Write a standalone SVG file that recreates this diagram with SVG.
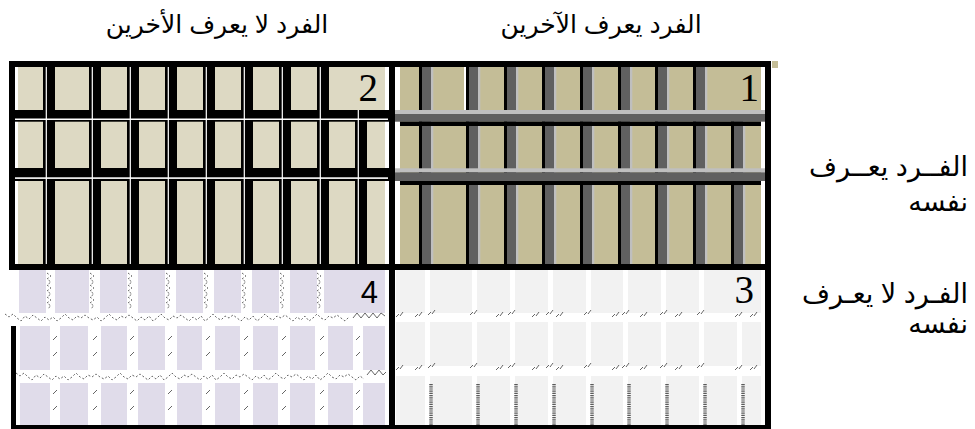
<svg xmlns="http://www.w3.org/2000/svg" width="975" height="429" viewBox="0 0 975 429">
<style>
.lbl{font-family:"Liberation Sans","DejaVu Sans",sans-serif;font-size:25px;fill:#000}
.lbr{font-family:"Liberation Sans","DejaVu Sans",sans-serif;font-size:27px;fill:#000}
.num{font-family:"Liberation Serif",serif;font-size:39px;fill:#000}
.num4{font-family:"Liberation Sans",sans-serif;font-size:31px;fill:#000}
.k{fill:#000}.w{fill:#fff}.dg{fill:#606060}.lg{fill:#BFBFBF}
.dash{fill:none;stroke:#555;stroke-width:0.9;stroke-dasharray:2 2}
.tick{fill:none;stroke:#555;stroke-width:0.9}
.hatch{fill:none;stroke:#5a5a5a;stroke-width:3.5;stroke-dasharray:1.2 1}
</style>
<defs>
<g id="vb2"><rect class="k" x="0" y="0" width="12" height="197"/></g>
<g id="vw2"><rect class="w" x="2.7" y="0" width="1.2" height="197"/></g>
<g id="vb1"><rect class="k" x="0" y="0" width="3" height="197"/><rect class="dg" x="3" y="0" width="9" height="197"/><rect class="lg" x="12" y="0" width="2.3" height="197"/></g>
<rect id="vw3" class="w" x="0" y="0" width="5" height="155"/>
<polyline id="zz" class="dash" points="0,0 4,3 0,6 4,9 0,12 4,15 0,18 4,21 0,24 4,27 0,30 4,33 0,36"/>
<g id="tk"><line class="tick" x1="0" y1="4" x2="4" y2="0"/><line class="tick" x1="0" y1="20" x2="4" y2="16"/></g>
<g id="tk3"><line class="tick" x1="0" y1="5" x2="3" y2="2"/><line class="tick" x1="4" y1="4" x2="7" y2="0"/></g>
</defs>

<g id="quadrant-2">
<rect class="w" x="15" y="67" width="374" height="197"/>
<rect fill="#DDD9C3" x="18" y="67" width="367" height="197"/>
<use href="#vb2" x="43" y="67"/><use href="#vb2" x="89" y="67"/><use href="#vb2" x="127" y="67"/><use href="#vb2" x="165" y="67"/><use href="#vb2" x="203" y="67"/><use href="#vb2" x="241" y="67"/><use href="#vb2" x="279" y="67"/><use href="#vb2" x="317" y="67"/>
<rect class="k" x="355" y="110" width="12" height="154"/>
<rect class="k" x="15" y="110" width="374" height="11.7"/>
<rect class="k" x="15" y="168" width="374" height="13"/>
<use href="#vw2" x="43" y="67"/><use href="#vw2" x="89" y="67"/><use href="#vw2" x="127" y="67"/><use href="#vw2" x="165" y="67"/><use href="#vw2" x="203" y="67"/><use href="#vw2" x="241" y="67"/><use href="#vw2" x="279" y="67"/><use href="#vw2" x="317" y="67"/>
<rect class="w" x="357.7" y="110" width="1.2" height="154"/>
<rect class="w" x="15" y="118.5" width="373" height="1.5"/>
<rect class="w" x="15" y="177.3" width="373" height="1.6"/>
<text class="num" x="378" y="101" text-anchor="end">2</text>
</g>

<g id="quadrant-1">
<rect class="w" x="395" y="67" width="370" height="197"/>
<rect fill="#C4BD97" x="400" y="67" width="361" height="197"/>
<use href="#vb1" x="419" y="67"/><use href="#vb1" x="466" y="67"/><use href="#vb1" x="504" y="67"/><use href="#vb1" x="542" y="67"/><use href="#vb1" x="580" y="67"/><use href="#vb1" x="618" y="67"/><use href="#vb1" x="655" y="67"/><use href="#vb1" x="693" y="67"/>
<rect class="k" x="731" y="110" width="3" height="154"/><rect class="dg" x="734" y="110" width="9" height="154"/><rect class="lg" x="743" y="110" width="2.3" height="154"/>
<rect class="w" x="464" y="67" width="2" height="43"/>
<rect class="lg" x="395" y="110" width="371" height="4"/>
<rect class="dg" x="395" y="114" width="371" height="7.7"/>
<rect class="k" x="400" y="121.7" width="361" height="4.3"/>
<rect class="lg" x="395" y="168.3" width="371" height="4"/>
<rect class="dg" x="395" y="172.3" width="371" height="8.7"/>
<rect class="k" x="400" y="181" width="361" height="4"/>
<rect fill="#C4BD97" x="772" y="61" width="6" height="7"/>
<text class="num" x="759" y="101" text-anchor="end">1</text>
</g>

<g id="quadrant-4">
<rect fill="#E0DCEA" x="19" y="270" width="366" height="155"/>
<rect class="w" x="5" y="313" width="380" height="13"/>
<rect class="w" x="16" y="370" width="369" height="13"/>
<rect class="w" x="16" y="326" width="4" height="99"/>
<rect class="w" x="46" y="270" width="9" height="43"/><rect class="w" x="89" y="270" width="11" height="43"/><rect class="w" x="127" y="270" width="11" height="43"/><rect class="w" x="165" y="270" width="11" height="43"/><rect class="w" x="203" y="270" width="11" height="43"/><rect class="w" x="241" y="270" width="11" height="43"/><rect class="w" x="279" y="270" width="11" height="43"/><rect class="w" x="317" y="270" width="7" height="43"/>
<rect class="w" x="50" y="326" width="10" height="99"/><rect class="w" x="88" y="326" width="13" height="99"/><rect class="w" x="127" y="326" width="11" height="99"/><rect class="w" x="165" y="326" width="12" height="99"/><rect class="w" x="202" y="326" width="13" height="99"/><rect class="w" x="240" y="326" width="13" height="99"/><rect class="w" x="278" y="326" width="12" height="99"/><rect class="w" x="315" y="326" width="13" height="99"/><rect class="w" x="353" y="326" width="10" height="99"/>
<use href="#zz" x="47" y="273"/><use href="#zz" x="90" y="273"/><use href="#zz" x="128" y="273"/><use href="#zz" x="166" y="273"/><use href="#zz" x="204" y="273"/><use href="#zz" x="242" y="273"/><use href="#zz" x="280" y="273"/><use href="#zz" x="317" y="273"/>
<polyline class="dash" points="5,314 9,317 13,314 17,318 21,321 25,316 29,319 33,315 37,318 41,321 45,317 49,320 53,317 57,321 61,318 65,314 69,318 73,320 77,316 81,318 85,315 89,318 93,320 97,317 101,321 105,318 109,314 113,318 117,320 121,316 125,318 129,315 133,318 137,321 141,317 145,320 149,316 153,321 157,318 161,314 165,318 169,320 173,316 177,318 181,315 185,318 189,321 193,317 197,320 201,316 205,321 209,318 213,314 217,318 221,320 225,316 229,318 233,315 237,318 241,321 245,317 249,320 253,316 257,321 261,318 265,314 269,318 273,320 277,316 281,318 285,315 289,318 293,321 297,317 301,320 305,316 309,321 313,318 317,314 321,318 325,320 329,316 333,318 337,315 341,318 345,321 349,317"/>
<polyline class="dash" points="16,373 20,376 24,373 28,377 32,380 36,375 40,378 44,374 48,377 52,380 56,376 60,379 64,376 68,380 72,377 76,373 80,377 84,379 88,375 92,377 96,374 100,377 104,379 108,376 112,380 116,377 120,373 124,377 128,379 132,375 136,377 140,374 144,377 148,380 152,376 156,379 160,375 164,380 168,377 172,373 176,377 180,379 184,375 188,377 192,374 196,377 200,380 204,376 208,379 212,375 216,380 220,377 224,373 228,377 232,379 236,375 240,377 244,374 248,377 252,380 256,376 260,379 264,375 268,380 272,377 276,373 280,377 284,379 288,375 292,377 296,374 300,377 304,380 308,376 312,379 316,375 320,380 324,377 328,373 332,377 336,379 340,375 344,377 348,374 352,377 356,380 360,376 364,379"/>
<polyline class="tick" points="353,318 357,313 361,318 365,313 369,318 373,313 377,318 381,313 385,316"/>
<polyline class="tick" points="367,375 371,370 375,375 379,370 383,375 386,372"/>
<use href="#tk" x="53" y="336"/><use href="#tk" x="93" y="336"/><use href="#tk" x="130" y="336"/><use href="#tk" x="168" y="336"/><use href="#tk" x="206" y="336"/><use href="#tk" x="244" y="336"/><use href="#tk" x="282" y="336"/><use href="#tk" x="320" y="336"/><use href="#tk" x="356" y="336"/>
<use href="#tk" x="53" y="390"/><use href="#tk" x="93" y="390"/><use href="#tk" x="130" y="390"/><use href="#tk" x="168" y="390"/><use href="#tk" x="206" y="390"/><use href="#tk" x="244" y="390"/><use href="#tk" x="282" y="390"/><use href="#tk" x="320" y="390"/><use href="#tk" x="356" y="390"/>
<text class="num4" x="378" y="303" text-anchor="end">4</text>
</g>

<g id="quadrant-3">
<rect fill="#F2F2F2" x="396" y="270" width="365" height="155"/>
<rect class="w" x="396" y="313" width="365" height="9"/>
<rect class="w" x="396" y="366" width="365" height="10"/>
<use href="#vw3" x="425" y="270"/><use href="#vw3" x="472" y="270"/><use href="#vw3" x="510" y="270"/><use href="#vw3" x="548" y="270"/><use href="#vw3" x="586" y="270"/><use href="#vw3" x="623" y="270"/><use href="#vw3" x="661" y="270"/><use href="#vw3" x="699" y="270"/>
<rect class="w" x="737" y="313" width="5" height="112"/>
<use href="#tk3" x="396" y="312"/><use href="#tk3" x="415" y="312"/><use href="#tk3" x="428" y="310"/><use href="#tk3" x="470" y="310"/><use href="#tk3" x="496" y="312"/><use href="#tk3" x="508" y="310"/><use href="#tk3" x="532" y="312"/><use href="#tk3" x="546" y="310"/><use href="#tk3" x="556" y="312"/><use href="#tk3" x="584" y="310"/><use href="#tk3" x="612" y="312"/><use href="#tk3" x="622" y="310"/><use href="#tk3" x="640" y="312"/><use href="#tk3" x="660" y="310"/><use href="#tk3" x="675" y="312"/><use href="#tk3" x="697" y="310"/><use href="#tk3" x="735" y="312"/><use href="#tk3" x="750" y="312"/>
<use href="#tk3" x="396" y="365"/><use href="#tk3" x="415" y="365"/><use href="#tk3" x="428" y="363"/><use href="#tk3" x="470" y="363"/><use href="#tk3" x="496" y="365"/><use href="#tk3" x="508" y="363"/><use href="#tk3" x="532" y="365"/><use href="#tk3" x="546" y="363"/><use href="#tk3" x="556" y="365"/><use href="#tk3" x="584" y="363"/><use href="#tk3" x="612" y="365"/><use href="#tk3" x="622" y="363"/><use href="#tk3" x="640" y="365"/><use href="#tk3" x="660" y="363"/><use href="#tk3" x="675" y="365"/><use href="#tk3" x="697" y="363"/><use href="#tk3" x="735" y="365"/><use href="#tk3" x="750" y="365"/>
<line class="hatch" x1="431" y1="384" x2="431" y2="425"/><line class="hatch" x1="478" y1="384" x2="478" y2="425"/><line class="hatch" x1="516" y1="384" x2="516" y2="425"/><line class="hatch" x1="554" y1="384" x2="554" y2="425"/><line class="hatch" x1="592" y1="384" x2="592" y2="425"/><line class="hatch" x1="629" y1="384" x2="629" y2="425"/><line class="hatch" x1="667" y1="384" x2="667" y2="425"/><line class="hatch" x1="705" y1="384" x2="705" y2="425"/><line class="hatch" x1="743" y1="384" x2="743" y2="425"/>
<text class="num" x="754" y="303" text-anchor="end">3</text>
</g>

<g id="frame">
<rect class="k" x="9" y="61" width="762" height="6"/>
<rect class="k" x="9" y="61" width="6" height="209"/>
<rect class="k" x="11" y="326" width="5" height="103"/>
<rect class="k" x="11" y="425" width="760" height="4"/>
<rect class="k" x="765" y="61" width="6" height="368"/>
<rect class="k" x="11" y="264" width="760" height="6"/>
<rect class="k" x="389" y="61" width="6" height="368"/>
</g>

<g id="labels">
<text class="lbl" x="601" y="33" text-anchor="middle">الفرد يعرف الآخرين</text>
<text class="lbl" x="217" y="33" text-anchor="middle">الفرد لا يعرف الأخرين</text>
<text class="lbr" x="968" y="176" text-anchor="end">الفــرد يعــرف</text>
<text class="lbr" x="968" y="211" text-anchor="end">نفسه</text>
<text class="lbr" x="968" y="303" text-anchor="end">الفـرد لا يعـرف</text>
<text class="lbr" x="968" y="333" text-anchor="end">نفسه</text>
</g>
</svg>
